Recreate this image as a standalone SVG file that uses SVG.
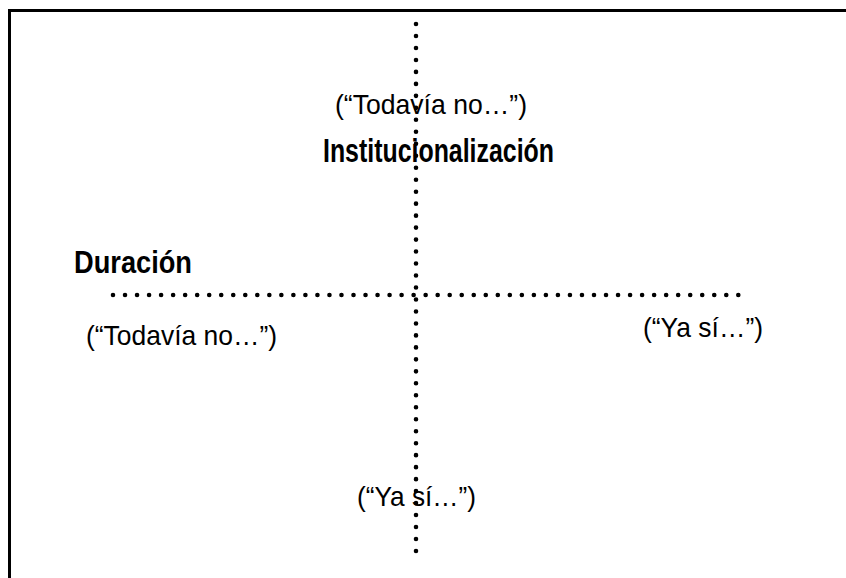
<svg xmlns="http://www.w3.org/2000/svg" width="846" height="578" viewBox="0 0 846 578">
  <style>
    .frame { fill: none; stroke: #000; stroke-width: 3; }
    .axis { fill: none; stroke: #000; stroke-width: 4.6; stroke-linecap: round; }
    .lbl { font-family: "Liberation Sans", Arial, sans-serif; font-size: 28px; fill: #000; }
    .ttl { font-family: "Liberation Sans", Arial, sans-serif; font-size: 32px; font-weight: bold; fill: #000; }
  </style>
  <rect width="846" height="578" fill="#fff"/>
  <g id="frame">
    <polyline class="frame" points="9.5,578 9.5,10.5 846,10.5"/>
  </g>
  <g id="connectors">
    <line class="axis" x1="416" y1="24" x2="416" y2="551" stroke-dasharray="0 11.977"/>
    <line class="axis" x1="113" y1="295" x2="738.3" y2="295" stroke-dasharray="0 12.025"/>
  </g>
  <g id="top-label">
    <text class="lbl" x="335" y="114" textLength="192" lengthAdjust="spacingAndGlyphs">(“Todavía no…”)</text>
  </g>
  <g id="institucionalizacion">
    <text class="ttl" x="323" y="162" textLength="231" lengthAdjust="spacingAndGlyphs" style="font-size:34px">Institucionalización</text>
  </g>
  <g id="duracion">
    <text class="ttl" x="74" y="273" textLength="118" lengthAdjust="spacingAndGlyphs">Duración</text>
  </g>
  <g id="left-label">
    <text class="lbl" x="86" y="345" textLength="191" lengthAdjust="spacingAndGlyphs">(“Todavía no…”)</text>
  </g>
  <g id="right-label">
    <text class="lbl" x="643" y="337" textLength="120" lengthAdjust="spacingAndGlyphs">(“Ya sí…”)</text>
  </g>
  <g id="bottom-label">
    <text class="lbl" x="357" y="506" textLength="119" lengthAdjust="spacingAndGlyphs">(“Ya sí…”)</text>
  </g>
</svg>
